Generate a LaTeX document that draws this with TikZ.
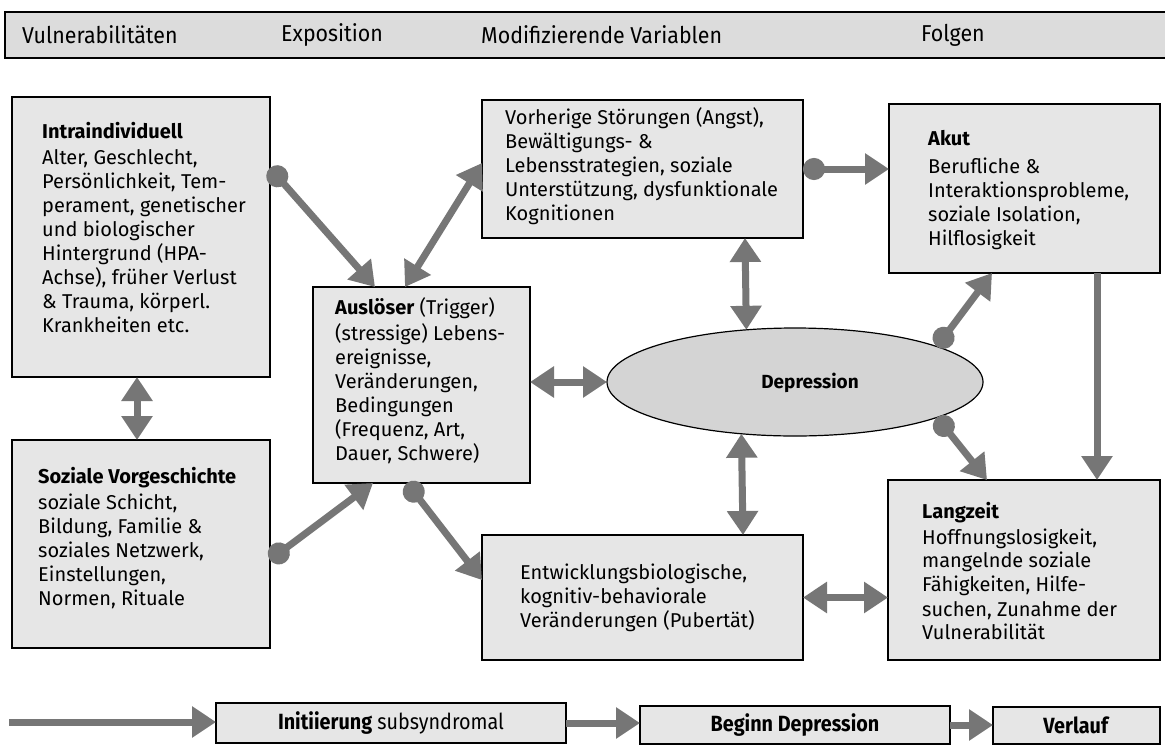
\documentclass[tikz,border=0pt]{standalone}
\usepackage{fontspec}
\setmainfont{Fira Sans}
\newfontfamily\condfont[FakeStretch=0.93]{Fira Sans}
\newfontfamily\bcondfont[FakeStretch=0.9]{Fira Sans}
\usetikzlibrary{arrows.meta,shapes.geometric}
\definecolor{boxfill}{HTML}{E6E6E6}
\definecolor{ellfill}{HTML}{D4D4D4}
\definecolor{arrcol}{HTML}{767676}
\definecolor{barfill}{HTML}{DCDCDC}
\begin{document}
\begin{tikzpicture}[x=1pt,y=-1pt,
  box/.style={draw=black, line width=1.2pt, fill=boxfill, rectangle, inner sep=0pt, outer sep=0pt},
  txt/.style={anchor=west, align=left, inner sep=0pt, font=\fontsize{20}{24}\selectfont},
  bartxt/.style={anchor=west, inner sep=0pt, font=\condfont\fontsize{23}{26}\selectfont},
  btxt/.style={inner sep=0pt, font=\bcondfont\fontsize{22}{24}\selectfont},
  conn/.style={draw=arrcol, line width=7pt},
  tipT/.tip={Triangle[length=24pt,width=30pt]},
  dbl/.style={conn, tipT-tipT},
  one/.style={conn, -tipT},
  dotarr/.style={conn, {Circle[length=22pt]}-tipT},
]
\useasboundingbox (0,0) rectangle (1165,745);
\fill[white] (0,0) rectangle (1165,745);

% top bar
\node[fill=barfill, minimum width=1165pt, minimum height=46pt, inner sep=0pt, outer sep=0pt] (bar) at (587.5,35) {};
\draw[line width=1.3pt] (1165,12) -- (5,12) -- (5,58) -- (1165,58);
\node[bartxt] (v1) at (22,35) {Vulnerabilitäten};
\node[bartxt] (v2) at (281,35) {Exposition};
\node[bartxt] (v3) at (481,35) {Modifizierende Variablen};
\node[bartxt] (v4) at (921,35) {Folgen};

% boxes
\node[box, minimum width=258pt, minimum height=280pt] (intra) at (141,237) {};
\node[txt] (tintra) at (42,228) {\textbf{Intraindividuell}\\[2pt] Alter, Geschlecht,\\ Persönlichkeit, Tem-\\ perament, genetischer\\ und biologischer\\ Hintergrund (HPA-\\ Achse), früher Verlust\\ \& Trauma, körperl.\\ Krankheiten etc.};

\node[box, minimum width=258pt, minimum height=208pt] (soz) at (141,544) {};
\node[txt] (tsoz) at (38,538) {\textbf{Soziale Vorgeschichte}\\[2pt] soziale Schicht,\\ Bildung, Familie \&\\ soziales Netzwerk,\\ Einstellungen,\\ Normen, Rituale};

\node[box, minimum width=217pt, minimum height=196pt] (ausl) at (421.5,385) {};
\node[txt] (tausl) at (335,381) {\textbf{Auslöser} (Trigger)\\[2pt] (stressige) Lebens-\\ ereignisse,\\ Veränderungen,\\ Bedingungen\\ (Frequenz, Art,\\ Dauer, Schwere)};

\node[box, minimum width=321pt, minimum height=138pt] (vor) at (642.5,169) {};
\node[txt] (tvor) at (505,166) {Vorherige Störungen (Angst),\\ Bewältigungs- \&\\ Lebensstrategien, soziale\\ Unterstützung, dysfunktionale\\ Kognitionen};

\node[box, minimum width=271pt, minimum height=169pt] (akut) at (1024.5,188.5) {};
\node[txt] (takut) at (928,190) {\textbf{Akut}\\[4pt] Berufliche \&\\ Interaktionsprobleme,\\ soziale Isolation,\\ Hilflosigkeit};

\node[draw=black, line width=1.2pt, fill=ellfill, ellipse, minimum width=376pt, minimum height=108pt, inner sep=0pt, outer sep=0pt] (dep) at (795,382) {};
\node[inner sep=0pt, font=\fontsize{19}{24}\selectfont\bfseries] (tdep) at (810,383) {Depression};

\node[box, minimum width=321pt, minimum height=125pt] (entw) at (642.5,597.5) {};
\node[txt] (tentw) at (520,598) {Entwicklungsbiologische,\\ kognitiv-behaviorale\\ Veränderungen (Pubertät)};

\node[box, minimum width=272pt, minimum height=180pt] (lang) at (1024,570) {};
\node[txt] (tlang) at (922,571) {\textbf{Langzeit}\\[2pt] Hoffnungslosigkeit,\\ mangelnde soziale\\ Fähigkeiten, Hilfe-\\ suchen, Zunahme der\\ Vulnerabilität};

% bottom row
\node[box, minimum width=350pt, minimum height=40pt] (init) at (391,723) {};
\node[btxt] (tinit) at (391,723) {\textbf{Initiierung} subsyndromal};
\node[box, minimum width=310pt, minimum height=38pt] (beg) at (795,725) {};
\node[btxt] (tbeg) at (795,725) {\textbf{Beginn Depression}};
\node[box, minimum width=167pt, minimum height=37pt] (verl) at (1076.5,725.5) {};
\node[btxt] (tverl) at (1076.5,725.5) {\textbf{Verlauf}};
\coordinate (start) at (9,722);

% connectors
\draw[dotarr] ([yshift=69pt]intra.east) -- ([xshift=62pt]ausl.north west);
\draw[dbl] ([xshift=92pt]ausl.north west) -- ([yshift=6pt]vor.west);
\draw[dbl] ([xshift=-4pt]intra.south) -- ([xshift=-4pt]soz.north);
\draw[dotarr] ([yshift=-16pt]soz.east) -- ([xshift=60pt]ausl.south west);
\draw[dotarr] ([xshift=94pt]ausl.south west) -- ([yshift=17.5pt]entw.west);
\draw[dbl] (ausl.east |- dep.west) -- (dep.west);
\draw[dbl] ([xshift=102.5pt]vor.south) -- (dep.133.84);
\draw[dbl] (dep.224.9) -- ([xshift=100.5pt]entw.north);
\draw[dotarr] (vor.east) -- (vor.east -| akut.west);
\draw[dotarr] (dep.14) -- ([xshift=103pt]akut.south west);
\draw[dotarr] (dep.-14.4) -- ([xshift=99pt]lang.north west);
\draw[one] ([xshift=208pt]akut.south west) -- ([xshift=209pt]lang.north west);
\draw[dbl] (entw.east) -- (entw.east -| lang.west);
\draw[one] (start) -- (start -| init.west);
\draw[one] (init.east) -- (init.east -| beg.west);
\draw[one] (beg.east) -- (beg.east -| verl.west);
\end{tikzpicture}
\end{document}
